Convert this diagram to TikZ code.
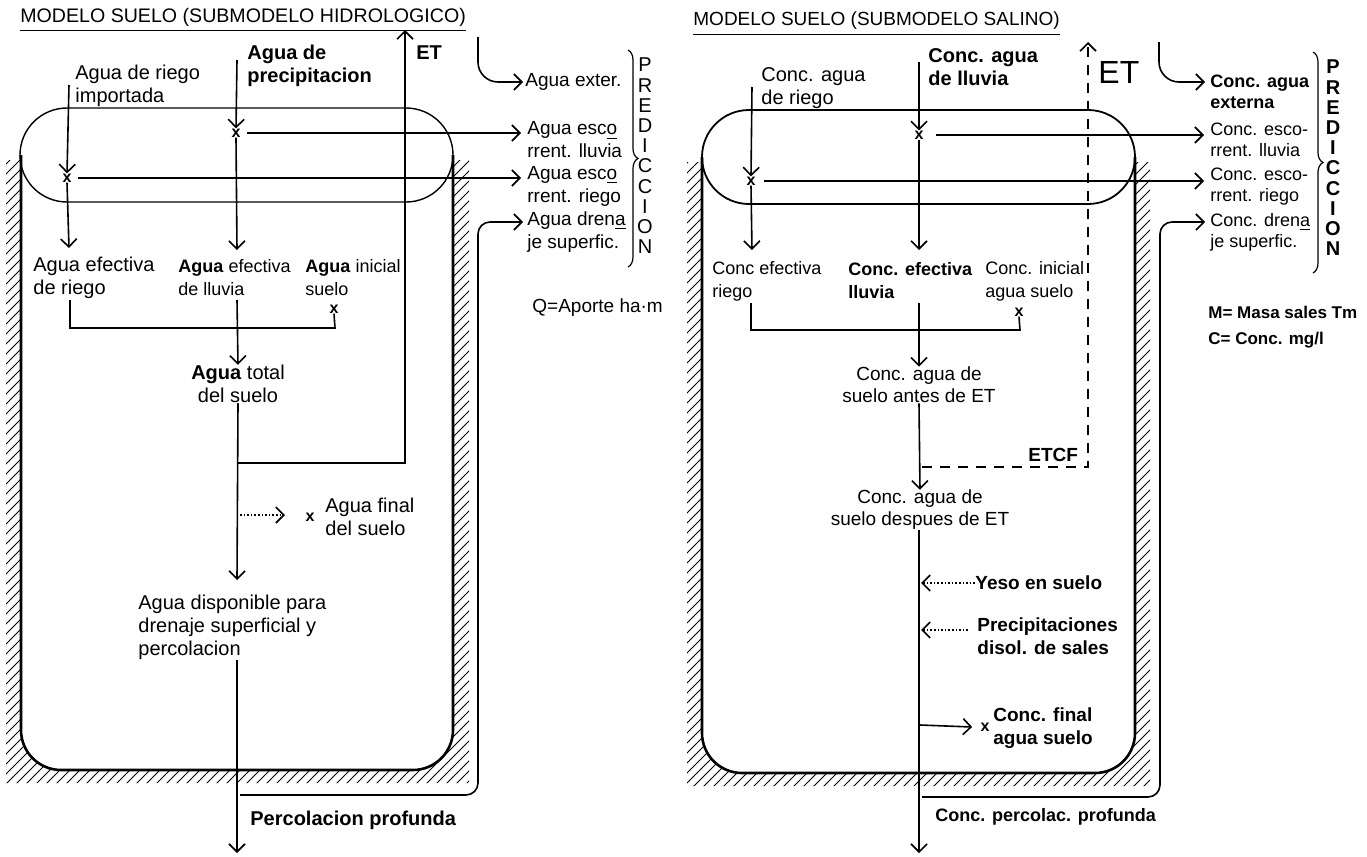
\documentclass[tikz,border=0pt]{standalone}
\usepackage{fontspec}
\setmainfont{Liberation Sans}
\usetikzlibrary{arrows.meta,decorations.pathreplacing}
\begin{document}
\begin{tikzpicture}[x=0.5pt,y=-0.5pt,
  ln/.style={line width=0.8pt},
  ar/.style={line width=0.8pt,-{Straight Barb[length=4pt,width=8pt]}},
  boxline/.style={line width=1.3pt},
  capsule/.style={line width=0.7pt},
  lbl/.style={anchor=west,inner sep=0pt,align=left,font=\fontsize{10}{11.5}\selectfont},
  rlbl/.style={anchor=west,inner sep=0pt,align=left,font=\fontsize{9}{11.5}\selectfont},
  clbl/.style={inner sep=0pt,align=center,font=\fontsize{9.5}{11}\selectfont},
  xm/.style={inner sep=0pt,font=\footnotesize\bfseries},
  hat/.style={line width=0.4pt},
  bracestyle/.style={line width=0.6pt,decorate,decoration={brace,amplitude=5pt}},
  pred/.style={inner sep=0pt,align=center,font=\fontsize{10}{10.1}\selectfont},
]
\useasboundingbox (0,0) rectangle (1367,857);

% ---------- hatching ----------
\begin{scope}
\clip (6,160) rectangle (469,783) (687,162) rectangle (1150,786);
\foreach \i in {-640,-630,...,1150} \draw[hat] (\i,800) -- ++(800,-800);
\end{scope}
\fill[white,rounded corners=20pt] (21,100) -- (21,770) -- (453,770) -- (453,100) -- cycle;
\fill[white,rounded corners=20pt] (702,100) -- (702,773) -- (1135,773) -- (1135,100) -- cycle;

% ================= LEFT PANEL =================
\node[anchor=west,inner sep=0pt,font=\fontsize{9.8}{12}\selectfont] (lt) at (20,17) {MODELO SUELO (SUBMODELO HIDROLOGICO)};
\draw[line width=0.5pt] ([yshift=-2pt]lt.south west) -- ([yshift=-2pt]lt.south east);

\draw[capsule,rounded corners=23.5pt] (20,108) rectangle (453,202);
\draw[boxline,rounded corners=20pt] (21,155) -- (21,770) -- (453,770) -- (453,155);

\node[lbl,font=\fontsize{10}{11.5}\selectfont\bfseries] (lprec) at (247,66) {Agua de\\precipitacion};
\node[lbl] (lrieg) at (75,86) {Agua de riego\\importada};
\node[lbl,font=\fontsize{10}{11.5}\selectfont\bfseries] (let) at (416,53) {ET};
\node[lbl,font=\fontsize{9.5}{11.5}\selectfont] (lext) at (525,82) {Agua exter.};
\node[lbl,font=\fontsize{9.5}{11.5}\selectfont] (lesc1) at (527,140) {Agua esc\underline{o}\\rrent. lluvia};
\node[lbl,font=\fontsize{9.5}{11.5}\selectfont] (lesc2) at (527,186) {Agua esc\underline{o}\\rrent. riego};
\node[lbl,font=\fontsize{9.5}{11.5}\selectfont] (ldren) at (527,232) {Agua dren\underline{a}\\je superfic.};
\node[lbl,font=\fontsize{9.5}{11.5}\selectfont] (lq) at (532,308) {Q=Aporte ha·m};
\node[lbl] (lef1) at (33,278) {Agua efectiva\\de riego};
\node[lbl,font=\fontsize{9}{11.5}\selectfont] (lef2) at (178,278) {\textbf{Agua} efectiva\\de lluvia};
\node[lbl,font=\fontsize{9}{11.5}\selectfont] (lini) at (305,278) {\textbf{Agua} inicial\\suelo};
\node[clbl,font=\fontsize{10}{11.5}\selectfont] (ltot) at (238,384) {\textbf{Agua} total\\del suelo};
\node[lbl] (lfin) at (325,517) {Agua final\\del suelo};
\node[lbl] (ldis) at (138,627) {Agua disponible para\\drenaje superficial y\\percolacion};
\node[lbl,font=\fontsize{10}{11.5}\selectfont\bfseries] (lper) at (250,820) {Percolacion profunda};
\node[pred] (lpred) at (645,156) {P\\R\\E\\D\\I\\C\\C\\I\\O\\N};
\draw[bracestyle] (628,50) -- (628,267);

\node[xm] (lx1) at (236,133) {x};
\node[xm] (lx2) at (67,178) {x};
\node[xm] (lx3) at (334,309) {x};
\node[xm] (lx4) at (310,517) {x};

\draw[ar] (237,60) -- (lx1.north);
\draw[ar] (lx1.south) -- (237,250);
\draw[ar] (69,85) -- (lx2.north);
\draw[ar] (lx2.south) -- (69,248);
\draw[ar,shorten <=3pt,shorten >=3pt] (lx1.east) -- (lx1 -| lesc1.west);
\draw[ar,shorten <=3pt,shorten >=3pt] (lx2.east) -- (lx2 -| lesc2.west);
\draw[ln] (70,300) -- (70,328) -- (335,328) -- (lx3.south);
\draw[ar] (237,300) -- (ltot.north);
\draw[ar] (ltot.south) -- (237,580);
\draw[ar] (237,463) -- (405,463) -- (405,30);
\draw[ar,densely dotted] (240,515) -- (285,515);
\draw[ar] (ldis.south -| 237,0) -- (237,853);
\draw[ar,rounded corners=6pt] (240,795) -- (478,795) -- (478,222) -- ([xshift=-2pt]ldren.north west |- 0,222);
\draw[ar,rounded corners=10pt] (478,37) -- (478,82) -- ([xshift=-1pt]lext.west);

% ================= RIGHT PANEL =================
\node[anchor=west,inner sep=0pt,font=\fontsize{9.5}{12}\selectfont] (rt) at (693,21) {MODELO SUELO (SUBMODELO SALINO)};
\draw[line width=0.7pt] ([yshift=-2pt]rt.south west) -- ([yshift=-2pt]rt.south east);

\draw[capsule,line width=0.9pt,rounded corners=23.5pt] (702,110) rectangle (1135,204);
\draw[boxline,rounded corners=20pt] (702,157) -- (702,773) -- (1135,773) -- (1135,157);

\node[rlbl,font=\fontsize{10}{11.5}\selectfont\bfseries] (rlluv) at (928,67) {Conc. agua\\de lluvia};
\node[rlbl,font=\fontsize{10}{11.5}\selectfont] (rrieg) at (761,88) {Conc. agua\\de riego};
\node[rlbl,font=\fontsize{16}{18}\selectfont] (ret) at (1098,72) {ET};
\node[rlbl,font=\fontsize{9}{10.5}\selectfont\bfseries] (rext) at (1210,92) {Conc. agua\\externa};
\node[rlbl,font=\fontsize{9}{10.5}\selectfont] (resc1) at (1210,140) {Conc. esco-\\rrent. lluvia};
\node[rlbl,font=\fontsize{9}{10.5}\selectfont] (resc2) at (1210,187) {Conc. esco-\\rrent. riego};
\node[rlbl,font=\fontsize{9}{10.5}\selectfont] (rdren) at (1210,232) {Conc. dren\underline{a}\\je superfic.};
\node[pred,font=\fontsize{10}{10.1}\selectfont\bfseries] (rpred) at (1333,158) {P\\R\\E\\D\\I\\C\\C\\I\\O\\N};
\draw[bracestyle] (1313,52) -- (1313,273);
\node[rlbl,font=\fontsize{8.5}{10}\selectfont\bfseries] (rM) at (1208,312) {M= Masa sales Tm};
\node[rlbl,font=\fontsize{8.5}{10}\selectfont\bfseries] (rC) at (1208,340) {C= Conc. mg/l};

\node[rlbl] (ref1) at (712,281) {Conc efectiva\\riego};
\node[rlbl,font=\fontsize{9}{11.5}\selectfont\bfseries] (ref2) at (848,281) {Conc. efectiva\\lluvia};
\node[rlbl] (rini) at (985,281) {Conc. inicial\\agua suelo};
\node[clbl] (rant) at (919,385) {Conc. agua de\\suelo antes de ET};
\node[clbl] (rdes) at (920,510) {Conc. agua de\\suelo despues de ET};
\node[rlbl,font=\fontsize{9.5}{11}\selectfont\bfseries] (retcf) at (1028,455) {ETCF};
\node[rlbl,font=\fontsize{9.5}{11}\selectfont\bfseries] (ryeso) at (975,583) {Yeso en suelo};
\node[rlbl,font=\fontsize{9.5}{11.5}\selectfont\bfseries] (rprec) at (977,636) {Precipitaciones\\disol. de sales};
\node[rlbl,font=\fontsize{9.5}{11.5}\selectfont\bfseries] (rfin) at (993,728) {Conc. final\\agua suelo};
\node[rlbl,font=\fontsize{9}{11}\selectfont\bfseries] (rper) at (935,817) {Conc. percolac. profunda};

\node[xm] (rx1) at (919,135) {x};
\node[xm] (rx2) at (751,181) {x};
\node[xm] (rx3) at (1019,312) {x};
\node[xm] (rx4) at (985,727) {x};

\draw[ar] (919,62) -- (rx1.north);
\draw[ar] (rx1.south) -- (919,250);
\draw[ar] (752,87) -- (rx2.north);
\draw[ar] (rx2.south) -- (752,250);
\draw[ar,shorten <=6pt,shorten >=3pt] (rx1.east) -- (rx1 -| resc1.west);
\draw[ar,shorten <=4pt,shorten >=3pt] (rx2.east) -- (rx2 -| resc2.west);
\draw[ln] (751,303) -- (751,330) -- (1020,330) -- (rx3.south);
\draw[ar] (919,303) -- (rant.north);
\draw[ar] (rant.south) -- (rdes.north);
\draw[ar,dash pattern=on 5pt off 4pt] (922,467) -- (1088,467) -- (1088,42);
\draw[ar] (rdes.south -| 919,0) -- (919,853);
\draw[ar,densely dotted] (ryeso.west) -- (921,583);
\draw[ar,densely dotted] (968,630) -- (921,630);
\draw[ar] (920,725) -- ([xshift=-4pt]rx4.west);
\draw[ar,rounded corners=6pt] (922,797) -- (1160,797) -- (1160,222) -- (1205,222);
\draw[ar,rounded corners=10pt] (1159,42) -- (1159,82) -- (1205,82);
\end{tikzpicture}
\end{document}
